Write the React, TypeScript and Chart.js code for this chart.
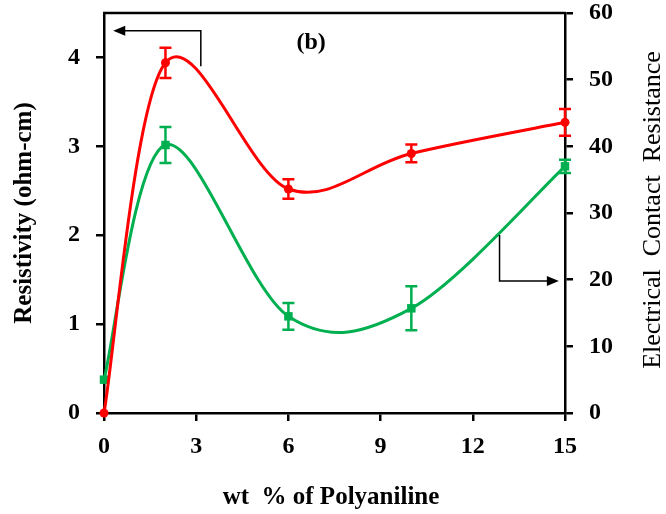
import React, { useEffect, useRef } from 'react';
import { Chart, registerables } from 'chart.js';

Chart.register(...registerables);

// ---- data ----
const wtPercent = [0, 2, 6, 10, 15];
const resistivity = [0, 3.94, 2.52, 2.92, 3.27];
const resistivityErr = [0, 0.17, 0.11, 0.1, 0.15];
const contactResistance = [5, 40.2, 14.5, 15.7, 37];
const contactResistanceErr = [0, 2.7, 2, 3.3, 1];
const xTicks = [0, 3, 6, 9, 12, 15];
const leftTicks = [0, 1, 2, 3, 4];
const rightTicks = [0, 10, 20, 30, 40, 50, 60];

const xTitle = 'wt  % of Polyaniline';
const leftTitle = 'Resistivity (ohm-cm)';
const rightTitle = 'Electrical  Contact  Resistance';
const panelLabel = '(b)';

// annotation arrows (data units)
const leftArrow = { x: 3.15, yFrom: 3.9, yTo: 4.3, xTip: 0.3 };
const rightArrow = { x: 12.87, yFrom: 26.7, yTo: 19.8, xTip: 14.8 };

const FONT = "'Liberation Serif', 'Times New Roman', serif";
const RED = '#ff0000';
const GREEN = '#00b050';

// Catmull-Rom style smoothing (like spreadsheet "smoothed line")
const smoothPlugin = {
  id: 'smooth',
  beforeDatasetDraw(chart: any, args: any) {
    const meta = chart.getDatasetMeta(args.index);
    const line = meta.dataset;
    if (!line) return;
    line.updateControlPoints(chart.chartArea, 'x');
    const pts = meta.data;
    const n = pts.length;
    const k = 1 / 6;
    for (let i = 0; i < n; i++) {
      const p = pts[i];
      const prev = pts[Math.max(0, i - 1)];
      const next = pts[Math.min(n - 1, i + 1)];
      const dx = next.x - prev.x;
      const dy = next.y - prev.y;
      p.cp1x = p.x - dx * k;
      p.cp1y = p.y - dy * k;
      p.cp2x = p.x + dx * k;
      p.cp2y = p.y + dy * k;
    }
    line._pointsUpdated = true;
  },
};

const errorBarPlugin = {
  id: 'errorBars',
  afterDatasetsDraw(chart: any) {
    const ctx = chart.ctx;
    const xs = chart.scales.x;
    const sets = [
      { axis: chart.scales.y, vals: resistivity, errs: resistivityErr, color: RED },
      { axis: chart.scales.y2, vals: contactResistance, errs: contactResistanceErr, color: GREEN },
    ];
    ctx.save();
    sets.forEach((s) => {
      ctx.strokeStyle = s.color;
      ctx.lineWidth = 2.5;
      s.vals.forEach((v, i) => {
        const e = s.errs[i];
        if (!e) return;
        const px = xs.getPixelForValue(wtPercent[i]);
        const top = s.axis.getPixelForValue(v + e);
        const bot = s.axis.getPixelForValue(v - e);
        ctx.beginPath();
        ctx.moveTo(px, top);
        ctx.lineTo(px, bot);
        ctx.moveTo(px - 6, top);
        ctx.lineTo(px + 6, top);
        ctx.moveTo(px - 6, bot);
        ctx.lineTo(px + 6, bot);
        ctx.stroke();
      });
    });
    ctx.restore();
  },
};

function arrowHead(ctx: CanvasRenderingContext2D, x: number, y: number, dir: number) {
  ctx.beginPath();
  ctx.moveTo(x, y);
  ctx.lineTo(x - dir * 12, y - 5);
  ctx.lineTo(x - dir * 12, y + 5);
  ctx.closePath();
  ctx.fill();
}

const decorPlugin = {
  id: 'decor',
  afterDraw(chart: any) {
    const ctx = chart.ctx as CanvasRenderingContext2D;
    const { left, right, top } = chart.chartArea;
    const xs = chart.scales.x;
    const yl = chart.scales.y;
    const yr = chart.scales.y2;
    ctx.save();
    // top frame line
    ctx.strokeStyle = '#000';
    ctx.lineWidth = 2.5;
    ctx.beginPath();
    ctx.moveTo(left - 1, top);
    ctx.lineTo(right + 1, top);
    ctx.stroke();

    // arrows
    ctx.lineWidth = 1.5;
    ctx.fillStyle = '#000';
    let ax = xs.getPixelForValue(leftArrow.x);
    let ay1 = yl.getPixelForValue(leftArrow.yFrom);
    let ay2 = yl.getPixelForValue(leftArrow.yTo);
    let tip = xs.getPixelForValue(leftArrow.xTip);
    ctx.beginPath();
    ctx.moveTo(ax, ay1);
    ctx.lineTo(ax, ay2);
    ctx.lineTo(tip + 8, ay2);
    ctx.stroke();
    arrowHead(ctx, tip, ay2, -1);

    ax = xs.getPixelForValue(rightArrow.x);
    ay1 = yr.getPixelForValue(rightArrow.yFrom);
    ay2 = yr.getPixelForValue(rightArrow.yTo);
    tip = xs.getPixelForValue(rightArrow.xTip);
    ctx.beginPath();
    ctx.moveTo(ax, ay1);
    ctx.lineTo(ax, ay2);
    ctx.lineTo(tip - 8, ay2);
    ctx.stroke();
    arrowHead(ctx, tip, ay2, 1);

    // panel label
    ctx.fillStyle = '#000';
    ctx.font = `bold 24px ${FONT}`;
    ctx.textAlign = 'center';
    ctx.textBaseline = 'middle';
    ctx.fillText(panelLabel, xs.getPixelForValue(6.74), yl.getPixelForValue(4.16));

    // axis titles
    ctx.font = `bold 25px ${FONT}`;
    ctx.fillText(xTitle, 331, 498);

    ctx.save();
    ctx.translate(25, 213);
    ctx.rotate(-Math.PI / 2);
    ctx.font = `bold 25px ${FONT}`;
    ctx.fillText(leftTitle, 0, 0);
    ctx.restore();

    ctx.save();
    ctx.translate(653, 210);
    ctx.rotate(-Math.PI / 2);
    ctx.font = `26px ${FONT}`;
    ctx.fillText(rightTitle, 0, 0);
    ctx.restore();

    ctx.restore();
  },
};

export default function App() {
  const ref = useRef<HTMLCanvasElement | null>(null);
  useEffect(() => {
    if (!ref.current) return;
    const tickFont = { family: FONT, size: 24, weight: 'bold' as const };
    const zeroPad = (s: any) => {
      s.paddingTop = 0;
      s.paddingBottom = 0;
      s.paddingLeft = 0;
      s.paddingRight = 0;
    };
    const chart = new Chart(ref.current, {
      type: 'line',
      data: {
        datasets: [
          {
            label: 'Resistivity',
            data: wtPercent.map((x, i) => ({ x, y: resistivity[i] })),
            borderColor: RED,
            backgroundColor: RED,
            borderWidth: 3,
            pointStyle: 'circle',
            pointRadius: 4.5,
            pointBorderWidth: 0,
            tension: 0.4,
            yAxisID: 'y',
            clip: false,
          },
          {
            label: 'Electrical Contact Resistance',
            data: wtPercent.map((x, i) => ({ x, y: contactResistance[i] })),
            borderColor: GREEN,
            backgroundColor: GREEN,
            borderWidth: 3,
            pointStyle: 'rect',
            pointRadius: 6,
            pointBorderWidth: 0,
            tension: 0.4,
            yAxisID: 'y2',
            clip: false,
          },
        ],
      },
      options: {
        animation: false,
        responsive: false,
        layout: { padding: { top: 13, left: 0, right: 0, bottom: 0 } },
        plugins: { legend: { display: false }, tooltip: { enabled: false } },
        scales: {
          x: {
            type: 'linear',
            min: 0,
            max: 15,
            afterBuildTicks: (s: any) => {
              s.ticks = xTicks.map((value) => ({ value }));
            },
            afterFit: (s: any) => {
              s.height = 101;
              zeroPad(s);
            },
            grid: { drawOnChartArea: false, drawTicks: true, tickLength: 8, color: '#000', lineWidth: 2.5 },
            border: { display: true, color: '#000', width: 2.5 },
            ticks: { font: tickFont, color: '#000', padding: 11, maxRotation: 0 },
          },
          y: {
            type: 'linear',
            position: 'left',
            min: 0,
            max: 4.5,
            afterBuildTicks: (s: any) => {
              s.ticks = leftTicks.map((value) => ({ value }));
            },
            afterFit: (s: any) => {
              s.width = 104;
              zeroPad(s);
            },
            grid: { drawOnChartArea: false, drawTicks: true, tickLength: 8, color: '#000', lineWidth: 2.5 },
            border: { display: true, color: '#000', width: 2.5 },
            ticks: { font: tickFont, color: '#000', padding: 16 },
          },
          y2: {
            type: 'linear',
            position: 'right',
            min: 0,
            max: 60,
            afterBuildTicks: (s: any) => {
              s.ticks = rightTicks.map((value) => ({ value }));
            },
            afterFit: (s: any) => {
              s.width = 101;
              zeroPad(s);
            },
            grid: { drawOnChartArea: false, drawTicks: true, tickLength: 8, color: '#000', lineWidth: 2.5 },
            border: { display: true, color: '#000', width: 2.5 },
            ticks: { font: tickFont, color: '#000', padding: 16 },
          },
        },
      },
      plugins: [smoothPlugin, errorBarPlugin, decorPlugin],
    });
    return () => chart.destroy();
  }, []);
  return (
    <div style={{ position: 'fixed', left: 0, top: 0, width: 666, height: 514, background: '#fff' }}>
      <canvas ref={ref} width={666} height={514} />
    </div>
  );
}
